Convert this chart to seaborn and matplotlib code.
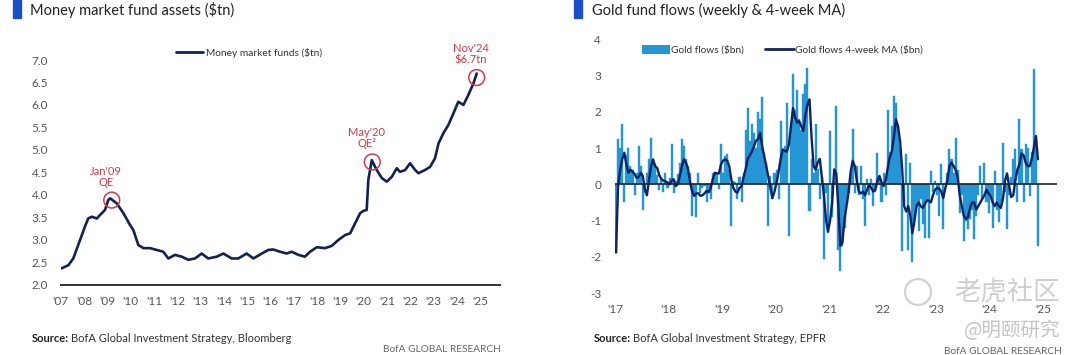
import numpy as np
import matplotlib
matplotlib.use("Agg")
import matplotlib.pyplot as plt
import seaborn as sns
from matplotlib.patches import Patch, Ellipse
from matplotlib.lines import Line2D

# Money market fund assets (decimal year, $tn)
mmf_dates = [2007.04, 2007.33, 2007.54, 2007.83, 2008.04, 2008.18, 2008.33, 2008.55,
             2008.69, 2008.9, 2009.04, 2009.12, 2009.4, 2009.69, 2009.97, 2010.12,
             2010.33, 2010.55, 2010.83, 2011.12, 2011.4, 2011.62, 2011.9, 2012.19,
             2012.48, 2012.76, 2013.05, 2013.33, 2013.7, 2013.98, 2014.34, 2014.62,
             2014.98, 2015.27, 2015.63, 2015.91, 2016.12, 2016.41, 2016.7, 2016.91,
             2017.2, 2017.48, 2017.7, 2017.99, 2018.34, 2018.63, 2018.91, 2019.2,
             2019.42, 2019.63, 2019.85, 2019.99, 2020.13, 2020.2, 2020.35, 2020.56,
             2020.78, 2020.99, 2021.21, 2021.42, 2021.56, 2021.78, 2021.99, 2022.21,
             2022.35, 2022.63, 2022.85, 2023.06, 2023.21, 2023.42, 2023.63, 2023.85,
             2024.06, 2024.28, 2024.49, 2024.71, 2024.85]
mmf_values = [2.36, 2.43, 2.58, 2.99, 3.29, 3.47, 3.51, 3.47,
              3.55, 3.66, 3.88, 3.92, 3.81, 3.59, 3.33, 3.21,
              2.88, 2.81, 2.81, 2.77, 2.73, 2.58, 2.66, 2.62,
              2.55, 2.58, 2.69, 2.58, 2.62, 2.69, 2.58, 2.58,
              2.69, 2.58, 2.69, 2.77, 2.78, 2.73, 2.69, 2.73,
              2.66, 2.62, 2.73, 2.83, 2.81, 2.86, 2.99, 3.1,
              3.14, 3.36, 3.59, 3.64, 3.66, 4.33, 4.77, 4.55,
              4.37, 4.29, 4.4, 4.59, 4.51, 4.55, 4.7, 4.55,
              4.48, 4.55, 4.62, 4.81, 5.14, 5.37, 5.55, 5.81,
              6.07, 6.0, 6.22, 6.48, 6.7]

# circled events on the left panel
event_dates = [2009.19, 2020.37, 2024.85]
event_values = [3.88, 4.73, 6.61]
event_labels = ["Jan'09\nQE", "May'20\nQE\u00b2", "Nov'24\n$6.7tn"]

mmf_years = ["'07", "'08", "'09", "'10", "'11", "'12", "'13", "'14", "'15", "'16",
             "'17", "'18", "'19", "'20", "'21", "'22", "'23", "'24", "'25"]
mmf_yticks = [2.0, 2.5, 3.0, 3.5, 4.0, 4.5, 5.0, 5.5, 6.0, 6.5, 7.0]

# Gold fund flows, two-week periods from Jan 2017 ($bn)
gold_2017 = [-1.9, 1.25, 1.0, 1.65, -0.5, 0.8, 1.0, 0.5, 0.4, -0.3, 0.3, 1.05, 0.5,
             -0.7, -0.25, 0.3, 0.7, 1.28, 0.6, 0.55, 0.25, -0.15, 0.15, -0.2, 0.3, -0.1]
gold_2018 = [0.18, 1.1, -0.23, 0.1, 0.28, 0.6, 1.24, 1.05, 0.69, 0.5, 0.3, -0.87, -0.32,
             -0.9, 0.32, -0.23, -0.1, -0.05, -0.5, -0.18, -0.41, 0.32, 0.3, 0.28, -0.14, 1.1]
gold_2019 = [0.3, 0.78, 0.83, 0.4, -1.15, 0.1, 0.05, -0.41, 0.2, -0.5, 0.3, 1.5, 2.1,
             1.2, 1.65, 1.4, 1.0, 2.0, 1.8, 2.4, 0.87, 0.6, -1.15, 0.23, -0.41, 0.3]
gold_2020 = [0.4, -0.41, 1.74, 0.9, 1.05, 2.25, -1.42, 1.6, 3.03, 2.06, 2.6, 1.8, 1.5,
             2.48, 2.75, 3.2, -0.73, 0.69, 0.3, 1.65, 0.41, -0.41, 0.2, -2.06, -0.23, -1.33]
gold_2021 = [1.47, -0.9, 0.1, 2.15, -1.8, -2.4, -1.7, -1.2, -0.5, -0.23, 0.3, 1.51, -0.23,
             0.5, -0.3, 0.5, -0.4, -1.15, 0.14, -0.3, 0.14, -0.6, -0.2, 0.87, 0.23, -0.5]
gold_2022 = [0.32, -0.3, 2.06, 0.9, 1.6, 2.43, 2.25, 1.6, 1.0, -1.83, -0.5, 0.83, -1.8,
             0.6, -2.15, -1.15, -0.6, -1.3, -0.4, -1.1, -1.47, -0.5, -1.47, 0.37, -0.2, 0.1]
gold_2023 = [-0.3, -0.87, 0.55, -1.24, 0.0, 0.3, 0.96, 0.7, 0.3, 1.28, 0.4, -0.8, -0.3,
             -1.56, -1.0, -1.24, -0.95, -0.7, -1.51, -0.87, -0.3, 0.5, -0.4, 0.6, -0.5, -0.8]
gold_2024 = [-0.3, -1.2, 0.37, -0.7, -1.05, -0.6, 1.15, -0.2, -1.24, -0.3, 0.2, 0.7,
             0.96, -0.5, 1.79, 0.96, -0.5, 1.1, 1.0, -0.32, 0.9, 3.17, 1.33, -1.7]

# 4-week moving average line, same periods
ma_2017 = [-1.88, -0.05, 0.4, 0.69, 0.87, 0.55, 0.32, 0.4, 0.35, 0.28, 0.18, 0.2, 0.32,
           0.23, -0.14, -0.3, 0.1, 0.5, 0.69, 0.5, 0.45, 0.25, 0.15, 0.1, 0.08, 0.05]
ma_2018 = [0.0, 0.1, 0.14, -0.05, 0.0, 0.23, 0.5, 0.69, 0.6, 0.4, 0.05, -0.2, -0.32,
           -0.25, -0.25, -0.32, -0.3, -0.25, -0.18, -0.22, -0.1, 0.14, 0.32, 0.3, 0.3, 0.55]
ma_2019 = [0.65, 0.69, 0.65, 0.5, 0.14, -0.1, -0.2, -0.23, -0.1, -0.05, 0.2, 0.42, 0.7,
           0.8, 0.9, 1.05, 1.2, 1.24, 1.42, 1.05, 0.78, 0.5, 0.2, -0.1, -0.38, -0.2]
ma_2020 = [0.05, 0.35, 0.7, 0.96, 0.92, 0.9, 1.1, 1.6, 2.1, 1.85, 1.7, 1.74, 1.6,
           1.47, 1.9, 2.2, 2.34, 1.3, 0.5, 0.41, 0.6, 0.7, 0.2, -0.3, -0.96, -1.3]
ma_2021 = [-1.0, -0.5, 0.41, 0.3, -0.6, -1.7, -1.6, -0.96, -0.6, -0.2, 0.35, 0.65, 0.5,
           0.1, -0.2, -0.25, -0.2, -0.3, -0.15, 0.0, -0.1, -0.2, -0.15, 0.1, 0.23, 0.05]
ma_2022 = [-0.05, 0.1, 0.45, 0.75, 0.9, 1.3, 1.79, 1.6, 1.2, 0.45, -0.6, -0.75, -0.6,
           -0.87, -1.35, -1.0, -0.6, -0.5, -0.6, -0.65, -0.55, -0.45, -0.45, -0.5, -0.3, -0.15]
ma_2023 = [-0.1, -0.12, -0.2, -0.38, -0.1, 0.1, 0.5, 0.6, 0.5, 0.4, 0.2, -0.3, -0.6,
           -0.87, -0.96, -0.9, -0.65, -0.5, -0.5, -0.7, -0.6, -0.5, -0.4, -0.3, -0.15, -0.25]
ma_2024 = [-0.32, -0.5, -0.6, -0.5, -0.6, -0.65, -0.4, 0.1, 0.3, -0.05, -0.35, -0.3,
           0.1, 0.4, 0.55, 0.85, 0.8, 0.6, 0.5, 0.5, 0.7, 1.0, 1.33, 0.69]

gold_years = ["'17", "'18", "'19", "'20", "'21", "'22", "'23", "'24", "'25"]
gold_yticks = [-3, -2, -1, 0, 1, 2, 3, 4]

# colours
navy = "#14214f"
bar_blue = "#2596d4"
ma_navy = "#0d2366"
red = "#d63a44"
title_blue = "#1d4fc4"
grey_text = "#555555"

sns.set_style("white")
plt.rcParams["font.family"] = ["Lato", "DejaVu Sans"]
plt.rcParams["axes.unicode_minus"] = False

W, H = 1080, 355
fig = plt.figure(figsize=(W / 100, H / 100), dpi=100)


def fx(px):
    return px / W


def fy(py):
    return 1 - py / H


# ---------------- left panel ----------------
ax1 = fig.add_axes([fx(60.7), fy(284.5), fx(500 - 60.7), fy(33.1) - fy(284.5)])
sns.lineplot(x=mmf_dates, y=mmf_values, ax=ax1, color=navy, linewidth=1.9, sort=False)
ax1.scatter(event_dates, event_values, s=130, facecolors="none", edgecolors=red,
            linewidths=1.1, zorder=5)
for d, v, lab in zip(event_dates, event_values, event_labels):
    ax1.annotate(lab.replace("$", r"\$"), xy=(d, v), xytext=(-4, 9), textcoords="offset points",
                 ha="center", va="bottom", color=red, fontsize=8, linespacing=1.0)

ax1.set_xlim(2007.0, 2025.85)
ax1.set_ylim(2.0, 7.6)
ax1.set_xticks(np.arange(2007, 2026))
ax1.set_xticklabels(mmf_years)
ax1.set_yticks(mmf_yticks)
ax1.set_yticklabels([f"{t:.1f}" for t in mmf_yticks])
for s in ["top", "right", "left"]:
    ax1.spines[s].set_visible(False)
ax1.spines["bottom"].set_color("#333333")
ax1.spines["bottom"].set_linewidth(1.4)
ax1.tick_params(axis="both", length=0, labelsize=8.5, colors=grey_text)
ax1.tick_params(axis="x", pad=8)
ax1.tick_params(axis="y", pad=9)
ax1.set_xlabel("")
ax1.set_ylabel("")
ax1.legend(handles=[Line2D([], [], color=navy, lw=2)], labels=["Money market funds (\\$tn)"],
           loc="center left", bbox_to_anchor=(fx(176), fy(53)), bbox_transform=fig.transFigure,
           frameon=False, fontsize=7.3, handlelength=2.65, handletextpad=0.3,
           borderpad=0, borderaxespad=0, labelcolor="#333333")

# ---------------- right panel ----------------
gold_flows = gold_2017 + gold_2018 + gold_2019 + gold_2020 + gold_2021 + gold_2022 + gold_2023 + gold_2024
gold_ma = ma_2017 + ma_2018 + ma_2019 + ma_2020 + ma_2021 + ma_2022 + ma_2023 + ma_2024
periods = 2017 + (np.arange(len(gold_flows)) + 0.5) / 26

ax2 = fig.add_axes([fx(615), fy(293.2), fx(1057 - 615), fy(39.1) - fy(293.2)])
# each bar spans its full two-week period
ax2.bar(periods, gold_flows, width=1 / 26, color=bar_blue, edgecolor=bar_blue,
        linewidth=0.3, zorder=2)
sns.lineplot(x=periods, y=gold_ma, ax=ax2, color=ma_navy, linewidth=1.7, zorder=3)
ax2.axhline(0, color="#222222", lw=1.2, zorder=4)
ax2.set_xlim(2017.0, 2025.26)
ax2.set_ylim(-3, 4)
ax2.set_xticks(np.arange(2017, 2026))
ax2.set_xticklabels(gold_years)
ax2.set_yticks(gold_yticks)
ax2.set_yticklabels([str(t) for t in gold_yticks])
for s in ["top", "right", "left", "bottom"]:
    ax2.spines[s].set_visible(False)
ax2.tick_params(axis="both", length=0, labelsize=8.5, colors=grey_text)
ax2.tick_params(axis="x", pad=8)
ax2.tick_params(axis="y", pad=10)
ax2.set_xlabel("")
ax2.set_ylabel("")
ax2.legend(handles=[Patch(facecolor=bar_blue, edgecolor="none"),
                    Line2D([], [], color=ma_navy, lw=2)],
           labels=["Gold flows (\\$bn)", "Gold flows 4-week MA (\\$bn)"],
           loc="center left", bbox_to_anchor=(fx(642), fy(50)), bbox_transform=fig.transFigure,
           ncol=2, frameon=False, fontsize=7.3, handlelength=2.77, handleheight=1.0,
           handletextpad=0.12, columnspacing=2.1, borderpad=0, borderaxespad=0,
           labelcolor="#333333")

# ---------------- titles, sources ----------------
for bar_x, title_x, title in [(13, 30, "Money market fund assets (\\$tn)"),
                              (574, 592, "Gold fund flows (weekly & 4-week MA)")]:
    fig.patches.append(plt.Rectangle((fx(bar_x), fy(18)), fx(8), fy(0) - fy(18),
                                     transform=fig.transFigure, color=title_blue))
    fig.text(fx(title_x), fy(10), title, fontsize=10.5, va="center", ha="left", color="#222222")

for src_x, src in [(32, "BofA Global Investment Strategy, Bloomberg"),
                   (594, "BofA Global Investment Strategy, EPFR")]:
    t = fig.text(fx(src_x), fy(338.5), "Source:", fontsize=8, fontweight="bold",
                 va="center", ha="left", color="#222222")
    fig.canvas.draw()
    bb = t.get_window_extent()
    fig.text(bb.x1 / W + fx(2), fy(338.5), src, fontsize=8, va="center", ha="left",
             color="#333333")

fig.text(fx(501), fy(349), "BofA GLOBAL RESEARCH", fontsize=7.3, ha="right", va="center",
         color="#666666")
fig.text(fx(1062), fy(352), "BofA GLOBAL RESEARCH", fontsize=7.3, ha="right", va="center",
         color="#666666")

# watermark
fig.patches.append(Ellipse((fx(918), fy(292)), fx(26), 26 / H, transform=fig.transFigure,
                           fill=False, edgecolor="#d2d2d2", linewidth=1.6))
fig.text(fx(1060), fy(292), "老虎社区", fontsize=19, ha="right", va="center",
         color="#cfcfcf", family=["Noto Sans CJK SC", "DejaVu Sans"])
fig.text(fx(1060), fy(330), "@明颐研究", fontsize=14, ha="right", va="center",
         color="#c4c4c4", family=["Noto Sans CJK SC", "DejaVu Sans"])

fig.savefig("out.png", dpi=100)
